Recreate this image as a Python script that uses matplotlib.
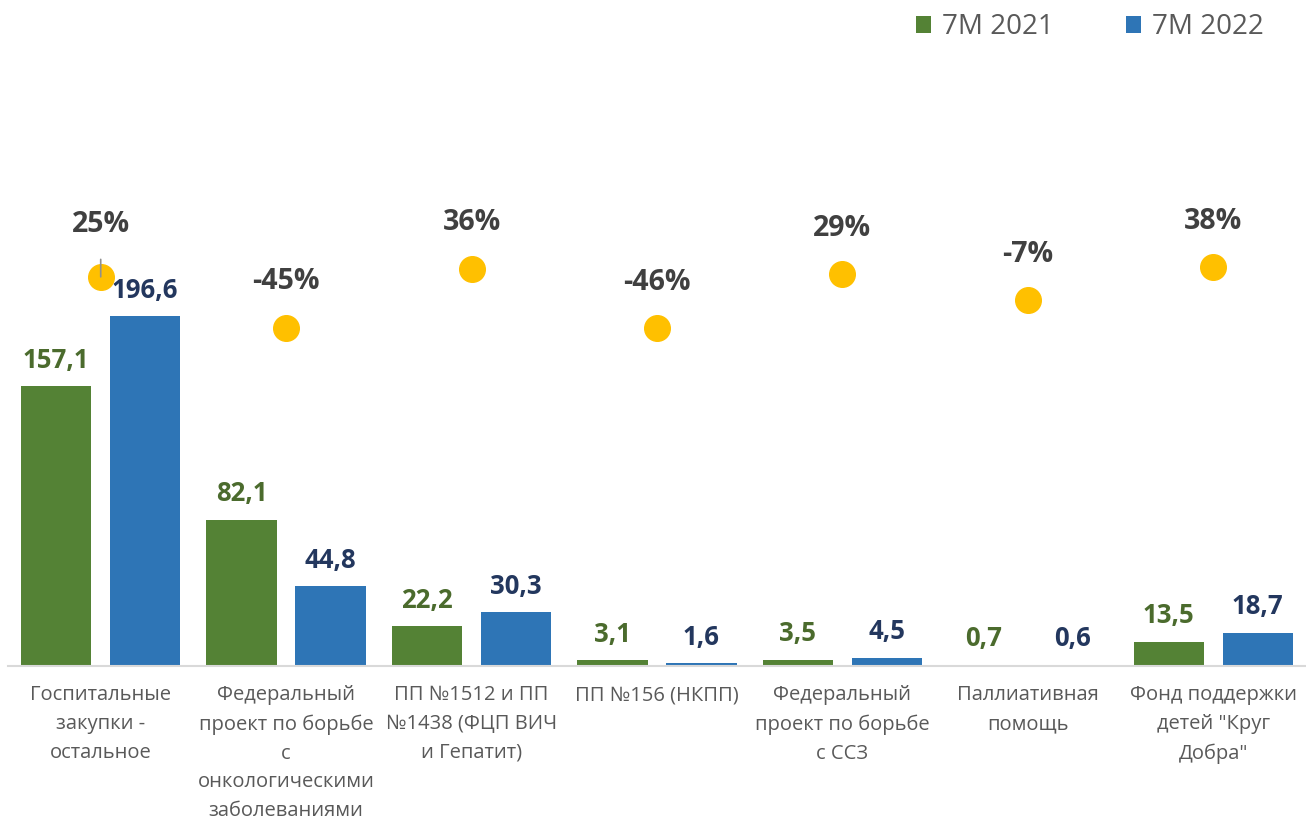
import matplotlib.pyplot as plt
import numpy as np

categories = ['Госпитальные\nзакупки -\nостальное',
              'Федеральный\nпроект по борьбе\nс\nонкологическими\nзаболеваниями',
              'ПП №1512 и ПП\n№1438 (ФЦП ВИЧ\nи Гепатит)',
              'ПП №156 (НКПП)',
              'Федеральный\nпроект по борьбе\nс ССЗ',
              'Паллиативная\nпомощь',
              'Фонд поддержки\nдетей "Круг\nДобра"']
values_2021 = [157.1, 82.1, 22.2, 3.1, 3.5, 0.7, 13.5]
values_2022 = [196.6, 44.8, 30.3, 1.6, 4.5, 0.6, 18.7]
change_pct = [25, -45, 36, -46, 29, -7, 38]
series_names = ['7M 2021', '7M 2022']

green = '#548235'
blue = '#2E75B6'
plt.rcParams['font.family'] = ['Open Sans', 'DejaVu Sans']

fig = plt.figure(figsize=(13.06, 8.24), dpi=100)
W, H = 1306, 824
ax = fig.add_axes([8 / W, 158 / H, 1298 / W, 546 / H])
ax2 = ax.twinx()

x = np.arange(len(categories))
bw = 0.38
off = 0.24
b1 = ax.bar(x - off, values_2021, bw, color=green, label=series_names[0])
b2 = ax.bar(x + off, values_2022, bw, color=blue, label=series_names[1])

def fmt(v):
    return f'{v:.1f}'.replace('.', ',')

for xi, v in zip(x, values_2021):
    ax.annotate(fmt(v), (xi - off, v), xytext=(0, 9), textcoords='offset points',
                ha='center', va='bottom', fontsize=18.5, fontweight='bold', color='#4B6B2D')
for xi, v in zip(x, values_2022):
    ax.annotate(fmt(v), (xi + off, v), xytext=(0, 9), textcoords='offset points',
                ha='center', va='bottom', fontsize=18.5, fontweight='bold', color='#23375E')

ax.set_xlim(-0.5, len(categories) - 0.5)
ax.set_ylim(0, 546 / 1.78)
ax.set_xticks(x)
ax.set_xticklabels(categories, fontsize=14.5, color='#595959', linespacing=1.58)
ax.tick_params(axis='x', length=0, pad=14)
ax.set_yticks([])
for s in ['top', 'right', 'left']:
    ax.spines[s].set_visible(False)
ax.spines['bottom'].set_color('#d9d9d9')
ax.spines['bottom'].set_linewidth(1.5)

# secondary axis for % change
ax2.scatter(x, change_pct, s=340, color='#FFC000', zorder=3)
ax2.set_ylim(-371 / 0.727, 175 / 0.727)
ax2.set_yticks([])
for s in ax2.spines.values():
    s.set_visible(False)
for i, (xi, p) in enumerate(zip(x, change_pct)):
    if i == 0:
        ax2.annotate(f'{p}%', (xi, p), xytext=(0, 38), textcoords='offset points',
                     ha='center', va='center', fontsize=20.5, fontweight='bold', color='#404040',
                     arrowprops=dict(arrowstyle='-', color='#909090', lw=1.2,
                                     shrinkA=13, shrinkB=0))
    else:
        ax2.annotate(f'{p}%', (xi, p), xytext=(0, 33), textcoords='offset points',
                     ha='center', va='center', fontsize=20.5, fontweight='bold', color='#404040')

fig.legend(handles=[b1, b2], labels=series_names, loc='upper right',
           bbox_to_anchor=(1289 / W, 1 + 12 / H), ncol=2, frameon=False, fontsize=20,
           labelcolor='#595959', handlelength=0.55, handleheight=0.55, handletextpad=0.4,
           columnspacing=2.6)

fig.savefig('out.png', dpi=100)
